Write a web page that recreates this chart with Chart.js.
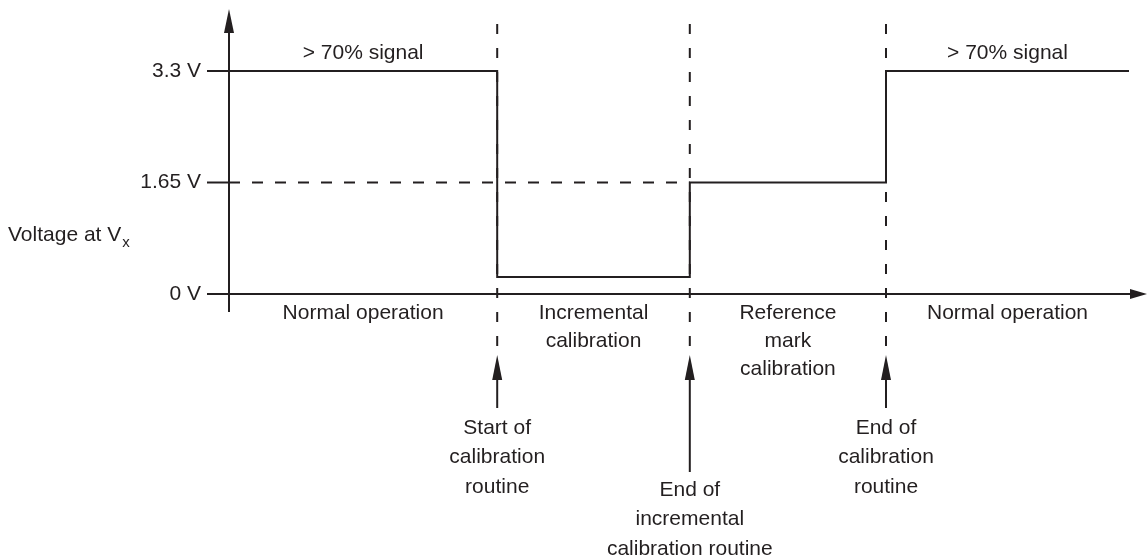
<!DOCTYPE html>
<html>
<head>
<meta charset="utf-8">
<title>Voltage at Vx during calibration</title>
<script src="https://cdn.jsdelivr.net/npm/chart.js@4"></script>
<style>
  html, body { margin: 0; padding: 0; background: #fff; }
  #wrap { width: 1147px; height: 560px; }
</style>
</head>
<body>
<div id="wrap"><canvas id="calChart" width="1147" height="560"></canvas></div>
<script>
// Voltage at Vx during the calibration routine

// time axis in arbitrary units: 0 = voltage axis, 100 = end of trace
const boundaries = [29.8, 51.2, 73];
const stepTimes = [0, 29.8, 51.2, 73, 100];
const stepVolts = [3.3, 0.25, 1.65, 3.3, 3.3];

// dashed 1.65 V guide
const guideTimes = [0, 51.2];
const guideVolts = [1.65, 1.65];

const yTicks = [3.3, 1.65, 0];
const yTickLabels = ['3.3 V', '1.65 V', '0 V'];

const phaseLabels = [
  ['Normal operation'],
  ['Incremental', 'calibration'],
  ['Reference', 'mark', 'calibration'],
  ['Normal operation']
];
const signalLabels = ['> 70% signal', '', '', '> 70% signal'];
const eventLabels = [
  ['Start of', 'calibration', 'routine'],
  ['End of', 'incremental', 'calibration routine'],
  ['End of', 'calibration', 'routine']
];
const eventLong = [false, true, false];

const INK = '#231f20';
const FONT = '"Liberation Sans", Arial, Helvetica, sans-serif';

function toPoints(xs, ys) {
  return xs.map((x, i) => ({ x: x, y: ys[i] }));
}

// Axes, arrows, markers and all labels
const diagramPlugin = {
  id: 'diagram',
  afterDatasetsDraw(chart) {
    const ctx = chart.ctx;
    const xs = chart.scales.x;
    const ys = chart.scales.y;
    const area = chart.chartArea;
    const x0 = xs.getPixelForValue(0);
    const y0 = ys.getPixelForValue(0);

    ctx.save();
    ctx.strokeStyle = INK;
    ctx.fillStyle = INK;
    ctx.lineWidth = 2;

    // y axis with arrow
    ctx.beginPath();
    ctx.moveTo(x0, 312);
    ctx.lineTo(x0, 30);
    ctx.stroke();
    ctx.beginPath();
    ctx.moveTo(x0, 9);
    ctx.lineTo(x0 - 5, 33);
    ctx.lineTo(x0 + 5, 33);
    ctx.closePath();
    ctx.fill();

    // x axis with arrow
    const xEnd = area.right + 18;
    ctx.beginPath();
    ctx.moveTo(x0 - 22, y0);
    ctx.lineTo(xEnd - 14, y0);
    ctx.stroke();
    ctx.beginPath();
    ctx.moveTo(xEnd, y0);
    ctx.lineTo(xEnd - 17, y0 - 5);
    ctx.lineTo(xEnd - 17, y0 + 5);
    ctx.closePath();
    ctx.fill();

    // level ticks
    yTicks.forEach(v => {
      const y = ys.getPixelForValue(v);
      ctx.beginPath();
      ctx.moveTo(x0 - 22, y);
      ctx.lineTo(x0, y);
      ctx.stroke();
    });

    // dashed phase boundaries + event arrows
    boundaries.forEach((b, i) => {
      const x = xs.getPixelForValue(b);
      ctx.setLineDash([10, 14]);
      ctx.beginPath();
      ctx.moveTo(x, 24);
      ctx.lineTo(x, 350);
      ctx.stroke();
      ctx.setLineDash([]);

      const shaftEnd = eventLong[i] ? 472 : 408;
      ctx.beginPath();
      ctx.moveTo(x, shaftEnd);
      ctx.lineTo(x, 375);
      ctx.stroke();
      ctx.beginPath();
      ctx.moveTo(x, 355);
      ctx.lineTo(x - 5, 380);
      ctx.lineTo(x + 5, 380);
      ctx.closePath();
      ctx.fill();
    });

    // text
    ctx.font = '21px ' + FONT;
    ctx.textBaseline = 'middle';

    ctx.textAlign = 'right';
    yTicks.forEach((v, i) => {
      ctx.fillText(yTickLabels[i], x0 - 28, ys.getPixelForValue(v));
    });

    ctx.textAlign = 'left';
    const vLabel = 'Voltage at V';
    ctx.fillText(vLabel, 8, 235);
    const w = ctx.measureText(vLabel).width;
    ctx.font = '15px ' + FONT;
    ctx.fillText('x', 8 + w + 1, 243);
    ctx.font = '21px ' + FONT;

    ctx.textAlign = 'center';
    const edges = [0].concat(boundaries, [100]);
    phaseLabels.forEach((lines, i) => {
      const cx = (xs.getPixelForValue(edges[i]) + xs.getPixelForValue(edges[i + 1])) / 2;
      lines.forEach((t, j) => ctx.fillText(t, cx, 313 + j * 28));
      if (signalLabels[i]) ctx.fillText(signalLabels[i], cx, 53);
    });

    eventLabels.forEach((lines, i) => {
      const cx = xs.getPixelForValue(boundaries[i]);
      const top = eventLong[i] ? 490 : 428;
      lines.forEach((t, j) => ctx.fillText(t, cx, top + j * 29.5));
    });

    ctx.restore();
  }
};

new Chart(document.getElementById('calChart'), {
  type: 'line',
  data: {
    datasets: [
      {
        label: 'Voltage at Vx',
        data: toPoints(stepTimes, stepVolts),
        stepped: true,
        borderColor: INK,
        borderWidth: 2,
        pointRadius: 0,
        clip: false
      },
      {
        label: '1.65 V',
        data: toPoints(guideTimes, guideVolts),
        borderColor: INK,
        borderWidth: 2,
        borderDash: [11, 12],
        pointRadius: 0,
        clip: false
      }
    ]
  },
  options: {
    responsive: false,
    animation: false,
    layout: { padding: { left: 229, right: 18, top: 71, bottom: 266 } },
    plugins: {
      legend: { display: false },
      tooltip: { enabled: false }
    },
    scales: {
      x: { type: 'linear', min: 0, max: 100, display: false },
      y: { min: 0, max: 3.3, display: false }
    }
  },
  plugins: [diagramPlugin]
});
</script>
</body>
</html>
